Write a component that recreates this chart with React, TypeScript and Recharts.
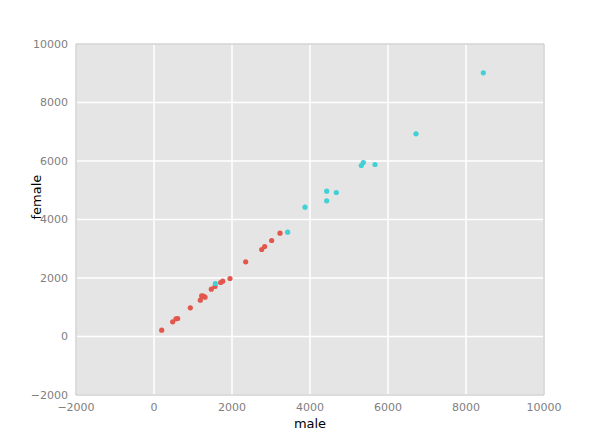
import React from 'react';
import { ScatterChart, Scatter, XAxis, YAxis, CartesianGrid, ReferenceArea } from 'recharts';

// red group
const redMale = [197, 479, 564, 607, 931, 1188, 1222, 1265, 1308, 1470, 1564, 1709, 1761, 1949, 2351, 2762, 2838, 3017, 3231];
const redFemale = [215, 502, 605, 615, 981, 1241, 1390, 1378, 1344, 1618, 1709, 1846, 1891, 1983, 2553, 2974, 3077, 3282, 3532];

// cyan group
const cyanMale = [1573, 3427, 3872, 4428, 4428, 4675, 5316, 5367, 5667, 6718, 8444];
const cyanFemale = [1812, 3566, 4421, 4639, 4968, 4923, 5846, 5949, 5880, 6930, 9015];

const ticks = [-2000, 0, 2000, 4000, 6000, 8000, 10000];

const redData = redMale.map((m, i) => ({ male: m, female: redFemale[i] }));
const cyanData = cyanMale.map((m, i) => ({ male: m, female: cyanFemale[i] }));

const fmt = (v: number) => String(v).replace('-', '\u2212');
const tickStyle = { fill: '#808080', fontSize: 11 };

const dot = (color: string) => (props: any) => (
  <circle cx={props.cx} cy={props.cy} r={2.6} fill={color} />
);

export default function App() {
  return (
    <div style={{ position: 'absolute', left: 0, top: 0, fontFamily: 'DejaVu Sans' }}>
      <ScatterChart width={605} height={440} margin={{ top: 44, right: 61, left: 16, bottom: 12 }}>
        <CartesianGrid stroke="#ffffff" strokeWidth={1.5} fill="#e5e5e5" fillOpacity={1} horizontalValues={ticks} verticalValues={ticks} />
        <XAxis
          type="number"
          dataKey="male"
          domain={[-2000, 10000]}
          ticks={ticks}
          tickFormatter={fmt}
          tick={tickStyle}
          tickLine={false}
          axisLine={false}
          height={33}
          label={{ value: 'male', position: 'insideBottom', offset: 0, fill: '#000', fontSize: 13 }}
        />
        <YAxis
          type="number"
          dataKey="female"
          domain={[-2000, 10000]}
          ticks={ticks}
          tickFormatter={fmt}
          tick={tickStyle}
          tickLine={false}
          axisLine={false}
          width={60}
          label={{ value: 'female', angle: -90, position: 'insideLeft', offset: 20, fill: '#000', fontSize: 13 }}
        />
        <ReferenceArea x1={-2000} x2={10000} y1={-2000} y2={10000} fill="none" stroke="#bcbcbc" strokeWidth={1} />
        <Scatter data={redData} shape={dot('#e2574c')} isAnimationActive={false} />
        <Scatter data={cyanData} shape={dot('#40d0d6')} isAnimationActive={false} />
      </ScatterChart>
    </div>
  );
}
